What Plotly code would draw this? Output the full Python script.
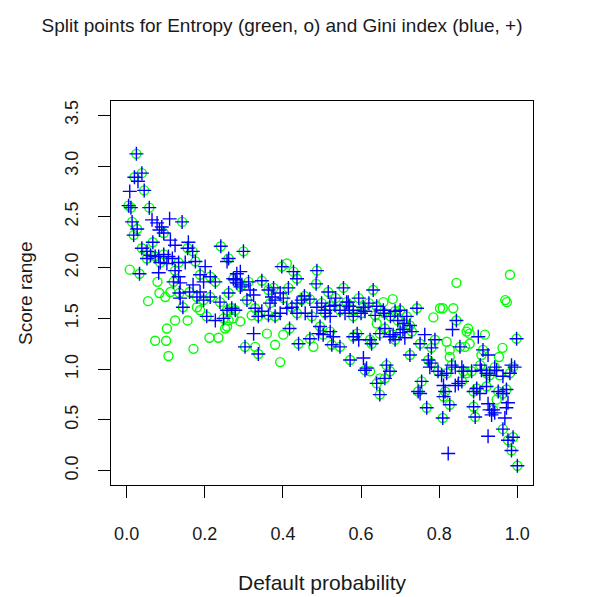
import plotly.graph_objects as go

# Split points chosen by both criteria (green circle + blue plus at the same spot)
shared_x = [0.025, 0.020, 0.039, 0.045, 0.005, 0.011, 0.058, 0.014, 0.027, 0.018,
            0.142, 0.095, 0.067, 0.156, 0.169, 0.241, 0.299, 0.261, 0.039, 0.052,
            0.061, 0.073, 0.095, 0.033, 0.124, 0.120, 0.135, 0.144, 0.161, 0.176,
            0.188, 0.214, 0.227, 0.180, 0.197, 0.214, 0.239, 0.261, 0.291, 0.269,
            0.278, 0.205, 0.248, 0.303, 0.308, 0.273, 0.295, 0.312, 0.346, 0.329,
            0.337, 0.363, 0.376, 0.414, 0.397, 0.427, 0.436, 0.487, 0.485, 0.367,
            0.401, 0.363, 0.380, 0.423, 0.448, 0.469, 0.436, 0.474, 0.499, 0.516,
            0.555, 0.594, 0.606, 0.546, 0.580, 0.631, 0.636, 0.417, 0.337, 0.440,
            0.469, 0.495, 0.503, 0.521, 0.525, 0.546, 0.572, 0.580, 0.590, 0.610,
            0.627, 0.687, 0.648, 0.661, 0.687, 0.665, 0.623, 0.700, 0.717, 0.743,
            0.844, 0.998, 0.694, 0.725, 0.682, 0.730, 0.725, 0.751, 0.789, 0.780,
            0.853, 0.912, 0.772, 0.797, 0.832, 0.862, 0.905, 0.942, 0.981, 0.640,
            0.661, 0.674, 0.648, 0.755, 0.746, 0.768, 0.809, 0.780, 0.819, 0.815,
            0.811, 0.827, 0.858, 0.888, 0.896, 0.921, 0.888, 0.892, 0.883, 0.921,
            0.929, 0.963, 0.972, 0.951, 0.938, 0.963, 0.976, 0.989, 0.985, 1.000,
            0.052, 0.086, 0.133, 0.563, 0.580, 0.508, 0.257, 0.455, 0.520, 0.535,
            0.570, 0.600, 0.620, 0.640, 0.660, 0.675, 0.710, 0.700]
shared_y = [3.12, 2.89, 2.93, 2.76, 2.61, 2.59, 2.59, 2.45, 2.38, 2.32,
            2.45, 2.34, 2.25, 2.19, 2.16, 2.21, 2.16, 2.09, 2.19, 2.16,
            2.12, 2.11, 2.13, 1.94, 1.97, 1.86, 1.75, 1.61, 1.76, 2.06,
            1.93, 1.91, 1.86, 1.71, 1.68, 1.71, 1.66, 1.75, 1.81, 1.60,
            1.58, 1.52, 1.50, 1.22, 1.68, 1.89, 1.83, 1.86, 1.87, 1.60,
            1.52, 1.78, 1.80, 1.80, 2.01, 1.96, 1.89, 1.97, 1.84, 1.65,
            1.70, 1.53, 1.52, 1.61, 1.68, 1.69, 1.55, 1.52, 1.65, 1.76,
            1.80, 1.70, 1.61, 1.58, 1.58, 1.78, 1.53, 1.40, 1.15, 1.25,
            1.30, 1.42, 1.34, 1.37, 1.24, 1.22, 1.09, 1.32, 1.35, 0.99,
            1.25, 1.57, 1.35, 1.40, 1.29, 1.04, 1.29, 1.58, 1.52, 1.60,
            1.48, 1.30, 1.48, 1.43, 1.34, 1.37, 1.14, 1.25, 1.29, 1.21,
            1.22, 1.19, 1.09, 0.98, 1.04, 0.98, 1.04, 1.02, 0.96, 0.86,
            0.91, 0.98, 0.75, 0.88, 0.78, 0.62, 0.52, 1.06, 0.96, 0.78,
            0.73, 0.65, 0.88, 0.78, 0.81, 0.83, 0.63, 0.53, 0.98, 0.96,
            0.94, 0.76, 0.80, 0.78, 0.60, 0.41, 0.30, 0.33, 0.20, 0.05,
            2.09, 2.05, 2.05, 1.66, 1.52, 1.55, 1.58, 1.72, 1.62, 1.70,
            1.62, 1.55, 1.65, 1.62, 1.55, 1.52, 1.45, 1.36]

# Split points only found with Entropy (green circles)
entropy_only_x = [0.008, 0.079, 0.055, 0.084, 0.099, 0.112, 0.188, 0.124, 0.156, 0.103,
                  0.073, 0.101, 0.107, 0.171, 0.212, 0.235, 0.252, 0.291, 0.273, 0.320,
                  0.410, 0.640, 0.359, 0.401, 0.329, 0.380, 0.393, 0.478, 0.623, 0.657,
                  0.681, 0.648, 0.981, 0.844, 0.969, 0.973, 0.802, 0.809, 0.836, 0.785,
                  0.874, 0.870, 0.878, 0.917, 0.819, 0.827, 0.866, 0.878, 0.908, 0.962,
                  0.953, 0.989, 0.827, 0.870, 0.955, 0.947, 0.180, 0.261, 0.257]
entropy_only_y = [1.98, 1.86, 1.67, 1.75, 1.71, 1.76, 1.58, 1.48, 1.48, 1.40,
                  1.28, 1.28, 1.13, 1.20, 1.31, 1.31, 1.40, 1.47, 1.50, 1.53,
                  2.04, 1.45, 1.35, 1.34, 1.22, 1.24, 1.07, 1.22, 0.98, 1.66,
                  1.69, 0.91, 1.93, 1.85, 1.68, 1.66, 1.60, 1.60, 1.60, 1.51,
                  1.40, 1.37, 1.35, 1.34, 1.27, 1.19, 1.22, 1.25, 1.14, 1.21,
                  1.12, 1.02, 1.12, 0.96, 0.94, 0.70, 1.61, 1.48, 1.42]

# Split points only found with the Gini index (blue plus signs)
gini_only_x = [0.029, 0.008, 0.065, 0.078, 0.090, 0.084, 0.110, 0.112, 0.124, 0.158,
               0.082, 0.107, 0.082, 0.103, 0.133, 0.137, 0.137, 0.170, 0.150, 0.201,
               0.197, 0.188, 0.278, 0.282, 0.257, 0.227, 0.291, 0.282, 0.325, 0.316,
               0.372, 0.393, 0.380, 0.410, 0.346, 0.393, 0.436, 0.487, 0.457, 0.508,
               0.567, 0.559, 0.610, 0.325, 0.491, 0.529, 0.594, 0.606, 0.657, 0.674,
               0.614, 0.834, 0.900, 0.707, 0.712, 0.763, 0.925, 0.985, 0.776, 0.806,
               0.858, 0.908, 0.947, 0.963, 0.751, 0.841, 0.811, 0.841, 0.849, 0.904,
               0.993, 0.925, 0.929, 0.934, 0.942, 0.972, 0.976, 0.968, 0.925, 0.823,
               0.117, 0.533, 0.521]
gini_only_y = [2.85, 2.75, 2.47, 2.44, 2.40, 2.37, 2.48, 2.27, 2.22, 2.25,
               2.11, 2.11, 1.95, 2.04, 1.91, 1.85, 1.70, 1.83, 2.05, 2.01,
               1.86, 1.76, 1.88, 1.94, 2.06, 1.48, 1.96, 1.85, 1.73, 1.78,
               1.71, 1.75, 1.68, 1.60, 1.57, 1.55, 1.65, 1.61, 1.55, 1.58,
               1.66, 1.55, 1.57, 1.35, 1.35, 1.32, 1.29, 1.11, 1.58, 1.32,
               1.01, 1.39, 1.32, 1.39, 1.31, 1.34, 1.14, 1.04, 1.02, 0.94,
               1.02, 0.99, 0.99, 0.93, 0.76, 1.02, 0.84, 0.84, 0.86, 0.76,
               1.02, 0.66, 0.60, 0.55, 0.57, 0.62, 0.67, 0.52, 0.34, 0.17,
               2.09, 1.63, 1.52]

entropy_x = shared_x + entropy_only_x
entropy_y = shared_y + entropy_only_y
gini_x = shared_x + gini_only_x
gini_y = shared_y + gini_only_y

x_ticks = [0.0, 0.2, 0.4, 0.6, 0.8, 1.0]
x_labels = ["0.0", "0.2", "0.4", "0.6", "0.8", "1.0"]
y_ticks = [0.0, 0.5, 1.0, 1.5, 2.0, 2.5, 3.0, 3.5]
y_labels = ["0.0", "0.5", "1.0", "1.5", "2.0", "2.5", "3.0", "3.5"]

FONT = "Liberation Sans, Arial, Helvetica, sans-serif"
TXT = "#1a1a1a"

fig = go.Figure()
fig.add_trace(go.Scatter(
    x=entropy_x, y=entropy_y, mode="markers", name="Entropy",
    marker=dict(symbol="circle-open", size=9, color="#00ff00",
                line=dict(width=1.4, color="#00ff00")),
))
fig.add_trace(go.Scatter(
    x=gini_x, y=gini_y, mode="markers", name="Gini index",
    marker=dict(symbol="cross-thin-open", size=10, color="#0000ff",
                line=dict(width=1.4, color="#0000ff")),
))

axis_common = dict(
    showgrid=False, zeroline=False, showline=True, mirror=True,
    linecolor="black", linewidth=1, ticks="outside", ticklen=12,
    tickwidth=1, tickcolor="black",
    tickfont=dict(family=FONT, size=18, color=TXT),
)

fig.update_layout(
    width=595, height=597,
    margin=dict(l=111, r=62, t=101, b=112),
    paper_bgcolor="white", plot_bgcolor="white",
    showlegend=False,
    title=dict(text="Split points for Entropy (green, o) and Gini index (blue, +)",
               x=282 / 595, xanchor="center", xref="container",
               y=1 - 25 / 597, yanchor="middle",
               font=dict(family=FONT, size=19, color=TXT)),
    xaxis=dict(range=[-0.04, 1.04], tickvals=x_ticks, ticktext=x_labels,
               ticklabelstandoff=20, **axis_common),
    yaxis=dict(range=[-0.14, 3.64], tickvals=y_ticks, ticktext=y_labels,
               tickangle=-90, ticklabelstandoff=13, **axis_common),
    annotations=[
        dict(text="Default probability", xref="paper", yref="paper",
             x=0.5, y=(485 - 582) / 384, xanchor="center", yanchor="middle",
             showarrow=False, font=dict(family=FONT, size=21, color=TXT)),
        dict(text="Score range", xref="paper", yref="paper",
             x=(25 - 111) / 422, y=0.5, xanchor="center", yanchor="middle",
             textangle=-90, showarrow=False,
             font=dict(family=FONT, size=19, color=TXT)),
    ],
)

fig.write_html("out.html")
